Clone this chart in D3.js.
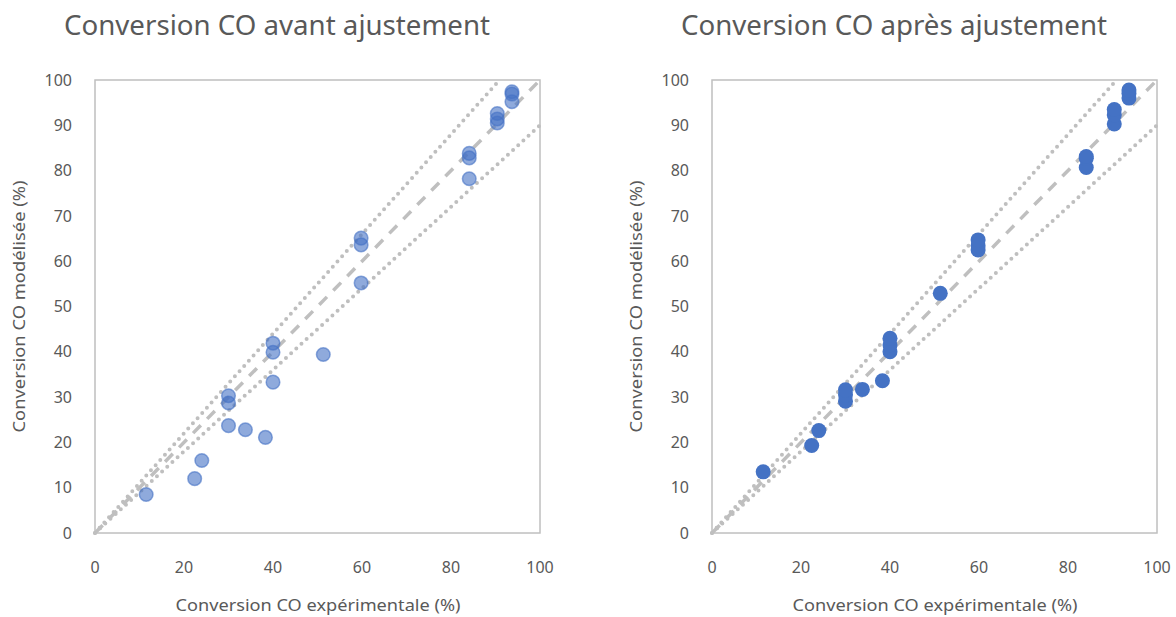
<!DOCTYPE html>
<html>
<head>
<meta charset="utf-8">
<script src="https://cdn.jsdelivr.net/npm/d3@7"></script>
<style>
  body { margin: 0; background: #fff; }
  text { font-family: "Noto Sans", sans-serif; fill: #595959; }
</style>
</head>
<body>
<script>
// valeurs
var expCO = [11.5, 22.4, 24.0, 30.0, 30.0, 30.0, 33.8, 38.3, 40.0, 40.0, 40.0, 51.3,
             59.8, 59.8, 59.8, 84.1, 84.1, 84.1, 90.4, 90.4, 90.4, 93.7, 93.7, 93.7];
var modAvant = [8.5, 12.0, 16.0, 23.7, 28.7, 30.3, 22.8, 21.1, 33.3, 39.9, 41.9, 39.4,
                55.2, 63.6, 65.1, 78.2, 82.8, 83.8, 90.5, 91.4, 92.6, 95.2, 96.9, 97.4];
var modApres = [13.5, 19.3, 22.6, 29.1, 30.5, 31.6, 31.7, 33.6, 40.0, 41.5, 43.0, 52.9,
                62.5, 63.4, 64.7, 80.7, 82.7, 83.1, 90.3, 92.3, 93.5, 96.0, 97.0, 97.8];
var xTicks = [0, 20, 40, 60, 80, 100];
var yTicks = [0, 10, 20, 30, 40, 50, 60, 70, 80, 90, 100];
// droites de référence : y = x, y = 1.1x, y = 0.9x
var refLines = [
    {id: "ideal", x: [0, 100], y: [0, 100], dash: "11,9"},
    {id: "plus10", x: [0, 100 / 1.1], y: [0, 100], dash: "0,7"},
    {id: "moins10", x: [0, 100], y: [0, 90], dash: "0,7"}
];

var svg = d3.select("body").append("svg")
    .attr("width", 1176)
    .attr("height", 617);

function dessinerPanneau(left, title, modele, transparent) {
    var plotW = 445, plotH = 453, top = 80;
    var g = svg.append("g").attr("transform", "translate(" + left + "," + top + ")");

    var x = d3.scaleLinear().domain([0, 100]).range([0, plotW]);
    var y = d3.scaleLinear().domain([0, 100]).range([plotH, 0]);

    svg.append("text")
        .attr("x", left - 31)
        .attr("y", 35)
        .attr("font-size", "27px")
        .attr("textLength", 426)
        .attr("lengthAdjust", "spacingAndGlyphs")
        .text(title);

    g.append("rect")
        .attr("width", plotW)
        .attr("height", plotH)
        .attr("fill", "none")
        .attr("stroke", "#bfbfbf")
        .attr("stroke-width", 1.5);

    g.selectAll(".ty").data(yTicks).enter().append("text")
        .attr("x", -23)
        .attr("y", function(d){ return y(d); })
        .attr("dy", "0.35em")
        .attr("text-anchor", "end")
        .attr("font-size", "16px")
        .text(function(d){ return d; });

    g.selectAll(".tx").data(xTicks).enter().append("text")
        .attr("x", function(d){ return x(d); })
        .attr("y", plotH + 34)
        .attr("dy", "0.35em")
        .attr("text-anchor", "middle")
        .attr("font-size", "16px")
        .text(function(d){ return d; });

    g.append("text")
        .attr("x", plotW / 2 - 142)
        .attr("y", plotH + 72)
        .attr("dy", "0.35em")
        .attr("font-size", "17px")
        .attr("textLength", 285)
        .attr("lengthAdjust", "spacingAndGlyphs")
        .text("Conversion CO expérimentale (%)");

    g.append("text")
        .attr("transform", "translate(" + (-76) + "," + (plotH / 2 + 126) + ") rotate(-90)")
        .attr("dy", "0.35em")
        .attr("font-size", "17px")
        .attr("textLength", 252)
        .attr("lengthAdjust", "spacingAndGlyphs")
        .text("Conversion CO modélisée (%)");

    var line = d3.line()
        .x(function(d){ return x(d[0]); })
        .y(function(d){ return y(d[1]); });

    refLines.forEach(function(r){
        g.append("path")
            .attr("d", line([[r.x[0], r.y[0]], [r.x[1], r.y[1]]]))
            .attr("fill", "none")
            .attr("stroke", "#bfbfbf")
            .attr("stroke-width", r.dash == "0,7" ? 4 : 3.5)
            .attr("stroke-linecap", r.dash == "0,7" ? "round" : "butt")
            .attr("stroke-dasharray", r.dash);
    });

    var pts = expCO.map(function(d, i){ return [d, modele[i]]; });

    g.selectAll(".pt").data(pts).enter().append("circle")
        .attr("cx", function(d){ return x(d[0]); })
        .attr("cy", function(d){ return y(d[1]); })
        .attr("r", transparent ? 6.8 : 7.5)
        .attr("fill", "#4472c4")
        .attr("fill-opacity", transparent ? 0.6 : 1)
        .attr("stroke", transparent ? "#4472c4" : "none")
        .attr("stroke-opacity", 0.6)
        .attr("stroke-width", 1.5);
}

dessinerPanneau(95, "Conversion CO avant ajustement", modAvant, true);
dessinerPanneau(712, "Conversion CO après ajustement", modApres, false);
</script>
</body>
</html>
